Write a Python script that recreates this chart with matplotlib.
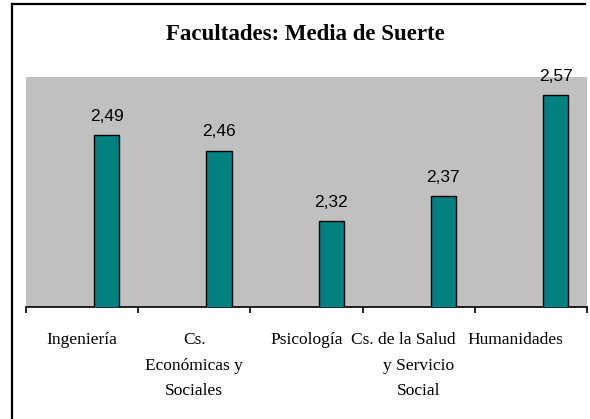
import matplotlib.pyplot as plt
from matplotlib.lines import Line2D

# data
categories = ["Ingeniería", "Cs.\nEconómicas y\nSociales", "Psicología",
              "Cs. de la Salud\ny Servicio\nSocial", "Humanidades"]
values = [2.49, 2.46, 2.32, 2.37, 2.57]
value_labels = ["2,49", "2,46", "2,32", "2,37", "2,57"]

W, H = 590, 419
PT = 0.72  # points per pixel at dpi 100
fig = plt.figure(figsize=(W / 100, H / 100), dpi=100)
fig.patch.set_facecolor("white")

# plot area in pixels: x 26..587, y 77..307
ax = fig.add_axes([26 / W, 1 - 307 / H, (587 - 26) / W, (307 - 77) / H])
ax.set_facecolor("#C0C0C0")

pos = [i + 0.72 for i in range(len(values))]
ax.bar(pos, values, width=0.225, bottom=0, color="#008080",
       edgecolor="black", linewidth=1.0, zorder=3)
ax.set_ylim(2.15, 2.6057)
ax.set_xlim(0, len(values))

for x, v, s in zip(pos, values, value_labels):
    ax.annotate(s, (x, v), xytext=(0, 8), textcoords="offset points",
                ha="center", va="bottom", fontsize=12.5,
                family="Liberation Sans", annotation_clip=False)

for sp in ["left", "right", "top"]:
    ax.spines[sp].set_visible(False)
ax.spines["bottom"].set_color("black")
ax.spines["bottom"].set_linewidth(1.2)
ax.set_yticks([])

ax.set_xticks(range(len(values) + 1))
ax.set_xticklabels([])
ax.tick_params(axis="x", which="major", length=4, width=1.2, direction="out")

# category labels (Excel squeezes the last ones a bit to the left)
line_h = 25.5  # px between label lines
top = 25       # px below the axis line
lab_kw = dict(xycoords=("data", "axes fraction"), textcoords="offset points",
              ha="center", va="top", fontsize=12.5, family="Liberation Serif",
              linespacing=1.76, annotation_clip=False)
for i, lab in enumerate(categories):
    first, _, rest = lab.partition("\n")
    dx = 0
    if i == 3:
        dx = -15
    if i == 4:
        dx = -16
    ax.annotate(first, (i + 0.5, 0), xytext=(dx * PT, -top * PT), **lab_kw)
    if rest:
        ax.annotate(rest, (i + 0.5, 0), xytext=(0, -(top + line_h) * PT),
                    **lab_kw)

fig.text(305 / W, 1 - 34 / H, "Facultades: Media de Suerte", ha="center",
         va="center", fontsize=16.5, fontweight="bold", family="Liberation Serif")

# outer frame (only left and top visible, rest cropped)
fig.add_artist(Line2D([11.5 / W, 11.5 / W], [0, 1 - 4.5 / H],
                      color="black", linewidth=1.6))
fig.add_artist(Line2D([11.5 / W, 585 / W], [1 - 4.5 / H, 1 - 4.5 / H],
                      color="black", linewidth=1.6))

fig.savefig("out.png", dpi=100)
